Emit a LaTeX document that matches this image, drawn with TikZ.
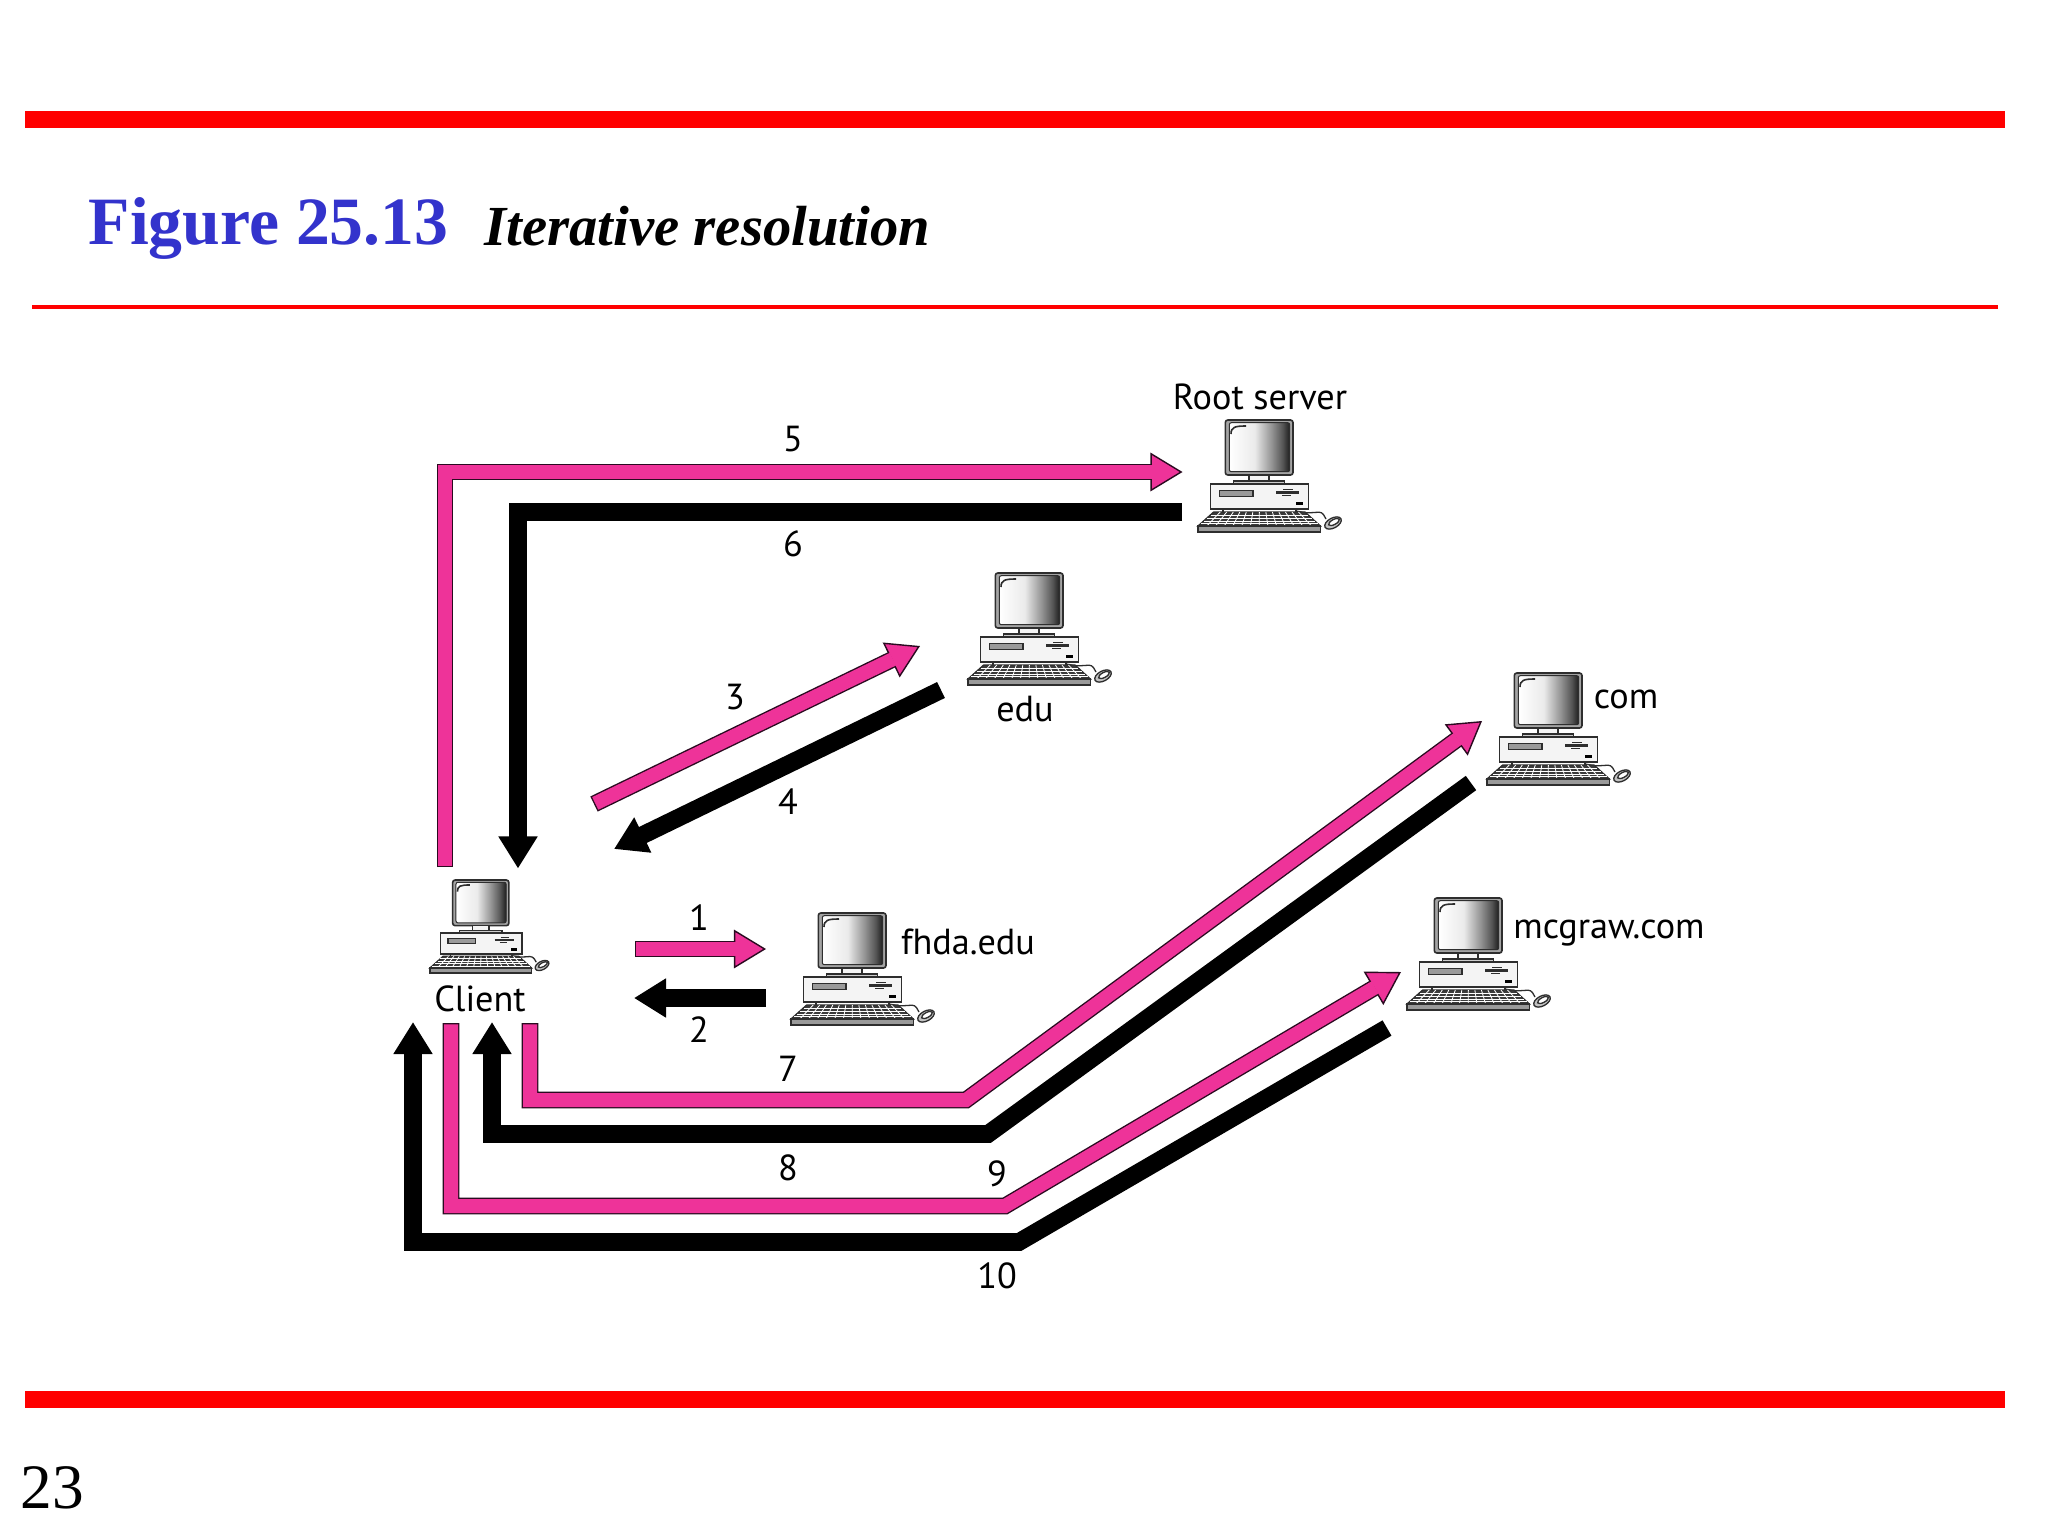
\documentclass[tikz,border=0pt]{standalone}
\usepackage{fontspec}
\setmainfont{Liberation Serif}
\newfontfamily\labelfont{PT Sans}
\usetikzlibrary{arrows.meta}
\definecolor{pinkc}{HTML}{EE3399}
\definecolor{pinkedge}{HTML}{2A0A20}
\definecolor{barred}{HTML}{FF0000}
\definecolor{titleblue}{HTML}{3333CC}
\definecolor{casegray}{HTML}{F4F4F4}
\definecolor{keygray}{HTML}{3A3A3A}
\definecolor{edgegray}{HTML}{2E2E2E}
\definecolor{midgray}{HTML}{9A9A9A}
\pgfdeclarehorizontalshading{screenshade}{100bp}{
  color(0bp)=(white); color(25bp)=(white); color(46bp)=(black!8);
  color(60bp)=(black!42); color(69bp)=(black!66); color(75bp)=(black!88); color(100bp)=(black!88)}
\tikzset{
  x=0.01cm,y=-0.01cm,
  lab/.style={font=\labelfont\fontsize{10.3pt}{12pt}\selectfont,inner sep=0pt,text=black},
  pinkout/.style={draw=pinkedge,line width=0.168cm,miter limit=20,
    -{Triangle[length=0.32cm,width=0.385cm,fill=pinkc,line width=0.014cm]}},
  pinkin/.style={draw=pinkc,line width=0.14cm,miter limit=20,shorten >=0.30cm,shorten <=0.014cm},
  blackflow/.style={draw=black,line width=0.177cm,miter limit=20,
    -{Triangle[length=0.32cm,width=0.37cm,fill=black]}},
  compline/.style={draw=edgegray,line width=0.013cm},
  computer/.pic={
    % mouse and cord
    \draw[compline,rounded corners=0.03cm] (98,91) -- (108,93) -- (124,92) -- (128,99);
    \draw[compline,fill=midgray!60,rotate around={28:(135,103)}] (135,103) ellipse [x radius=9,y radius=5];
    \draw[compline,fill=white,rotate around={28:(136,102)}] (136,102) ellipse [x radius=6,y radius=2.5];
    % monitor
    \draw[draw=edgegray,line width=0.016cm,fill=midgray!90,rounded corners=0.025cm] (27.3,0) rectangle (95,55);
    \fill[rounded corners=0.02cm,draw=edgegray,line width=0.01cm,shading=screenshade] (31.3,2.7) rectangle (91.7,51.7);
    \draw[edgegray,line width=0.016cm] (33,14) .. controls (33,7) and (37,6) .. (48,6);
    \draw[compline,fill=casegray] (51,55) rectangle (71,61);
    \draw[compline,fill=midgray!50] (35.7,61) rectangle (86.7,64);
    % case
    \draw[compline,fill=casegray] (12.3,64) rectangle (110.7,89);
    \draw[compline,fill=midgray] (21.7,70.7) rectangle (55,76.7);
    \draw[edgegray,line width=0.022cm] (78,72.5) -- (101,72.5);
    \draw[edgegray,line width=0.014cm] (85,69.5) -- (95,69.5) (84,75.5) -- (93,75.5);
    \fill[black] (98,82) rectangle (105,85);
    \draw[compline] (25,89) -- (25,92) (98,89) -- (98,92);
    % keyboard
    \draw[compline,fill=keygray] (15.7,92) -- (107,92) -- (122.3,106) -- (0,106) -- cycle;
    \foreach \yy/\xa/\xb in {95/12.6/110, 98/9.3/113.5, 101/6/117, 103.5/3/120}
      \draw[white,line width=0.008cm] (\xa,\yy) -- (\xb,\yy);
    \foreach \i in {1,...,13}
      \draw[white,line width=0.008cm] ({15.7+\i*91.3/14},92) -- ({\i*122.3/14},106);
    \draw[compline,fill=midgray] (0,106) rectangle (122.3,112);
  }
}
\begin{document}
\begin{tikzpicture}
\useasboundingbox (0,0) rectangle (2048,1536);
\fill[white] (0,0) rectangle (2048,1536);
% rules
\fill[barred] (25,111) rectangle (2005,128);
\fill[barred] (32,305) rectangle (1998,309);
\fill[barred] (25,1391) rectangle (2005,1408);
% title
\node[anchor=base west,inner sep=0pt,text=titleblue,font=\bfseries\fontsize{19.25pt}{22pt}\selectfont] (fig) at (88,244) {Figure 25.13};
\node[anchor=base west,inner sep=0pt,font=\bfseries\itshape\fontsize{16.1pt}{19pt}\selectfont] (ttl) at (484,245) {Iterative resolution};
\node[anchor=base west,inner sep=0pt,font=\fontsize{18pt}{20pt}\selectfont] (pg) at (20,1508) {23};
% computers
\pic at (1198,420) {computer};
\pic at (968,573) {computer};
\pic at (1487,673) {computer};
\pic at (1407,898) {computer};
\pic at (791,913) {computer};
\pic[scale=0.83] at (430,880) {computer};
% computer labels
\node[lab] (root) at (1260,397) {Root server};
\node[lab] (edu) at (1025,709) {edu};
\node[lab] (com) at (1626,699) {com};
\node[lab] (mcg) at (1609,933) {mcgraw.com};
\node[lab] (fhda) at (968,942) {fhda.edu};
\node[lab] (client) at (480,999) {Client};
% connector end points
\coordinate (a1) at (635,949);   \coordinate (b1) at (766,949);
\coordinate (a2) at (766,998);   \coordinate (b2) at (634,998);
\coordinate (a3) at (594,804);   \coordinate (b3) at (920,646);
\coordinate (a4) at (941,690);   \coordinate (b4) at (614,849);
\coordinate (a5) at (445,867);   \coordinate (c5) at (445,472);   \coordinate (b5) at (1182.5,472);
\coordinate (a6) at (1182,512);  \coordinate (c6) at (518,512);   \coordinate (b6) at (518,868.5);
\coordinate (a7) at (530,1023);  \coordinate (c7) at (530,1100);  \coordinate (d7) at (966,1100); \coordinate (b7) at (1482,721);
\coordinate (a8) at (1471,783);  \coordinate (d8) at (988,1134);  \coordinate (c8) at (492,1134); \coordinate (b8) at (492,1022);
\coordinate (a9) at (451,1023);  \coordinate (c9) at (451,1206);  \coordinate (d9) at (1005,1206); \coordinate (b9) at (1401,972);
\coordinate (a10) at (1387,1028);\coordinate (d10) at (1019,1242);\coordinate (c10) at (413,1242); \coordinate (b10) at (413,1022);
% flows
\newcommand\pinkflow[1]{\draw[pinkout] #1; \draw[pinkin] #1;}
\pinkflow{(a1) -- (b1)}
\draw[blackflow] (a2) -- (b2);
\pinkflow{(a3) -- (b3)}
\draw[blackflow] (a4) -- (b4);
\pinkflow{(a5) -- (c5) -- (b5)}
\draw[blackflow] (a6) -- (c6) -- (b6);
\pinkflow{(a7) -- (c7) -- (d7) -- (b7)}
\draw[blackflow] (a8) -- (d8) -- (c8) -- (b8);
\pinkflow{(a9) -- (c9) -- (d9) -- (b9)}
\draw[blackflow] (a10) -- (d10) -- (c10) -- (b10);
% flow labels
\node[lab] (n1) at (699,918) {1};
\node[lab] (n2) at (699,1030) {2};
\node[lab] (n3) at (735,697) {3};
\node[lab] (n4) at (788,802) {4};
\node[lab] (n5) at (793,439) {5};
\node[lab] (n6) at (793,544) {6};
\node[lab] (n7) at (788,1069) {7};
\node[lab] (n8) at (788,1168) {8};
\node[lab] (n9) at (997,1174) {9};
\node[lab] (n10) at (997,1276) {10};
\end{tikzpicture}
\end{document}
